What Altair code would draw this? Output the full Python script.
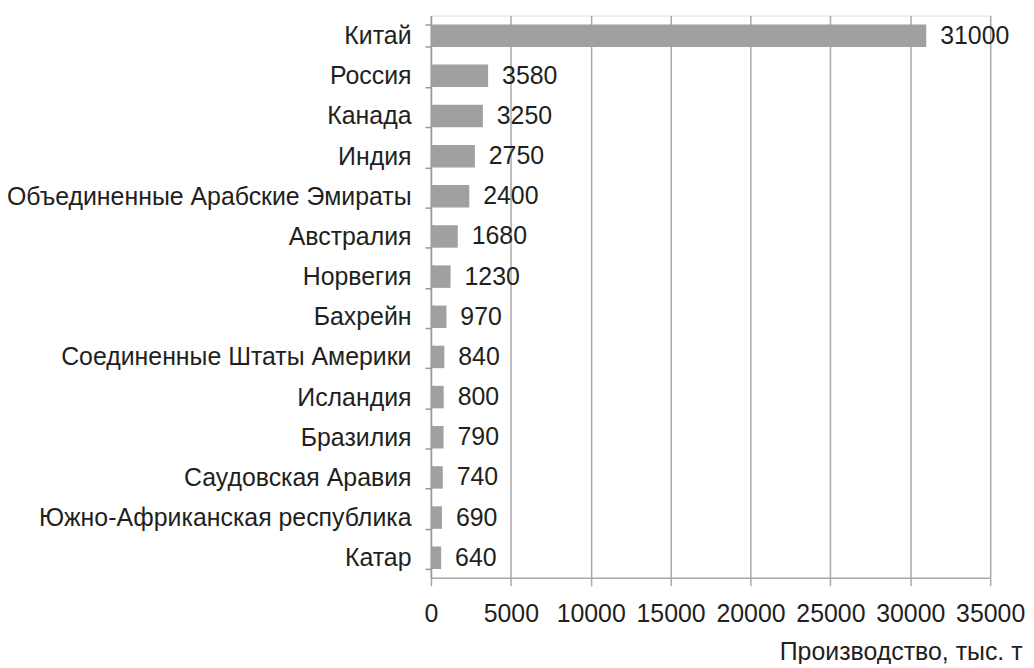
import altair as alt
import pandas as pd

countries = ["Китай", "Россия", "Канада", "Индия", "Объединенные Арабские Эмираты",
             "Австралия", "Норвегия", "Бахрейн", "Соединенные Штаты Америки",
             "Исландия", "Бразилия", "Саудовская Аравия",
             "Южно-Африканская республика", "Катар"]
values = [31000, 3580, 3250, 2750, 2400, 1680, 1230, 970, 840, 800, 790, 740, 690, 640]

df = pd.DataFrame({"country": countries, "value": values})

FONT = "Liberation Sans"
TXT = "#231f20"
FS = 25

y_enc = alt.Y("country:N", sort=countries,
              scale=alt.Scale(paddingInner=0.44, paddingOuter=0.22),
              axis=alt.Axis(title=None, labelFontSize=FS, labelColor=TXT, labelFont=FONT,
                            labelPadding=14, tickSize=6, tickColor="#999999",
                            domainColor="#999999", domainWidth=1.5, tickWidth=1.5,
                            tickBand="extent", grid=False, labelLimit=600))

x_enc = alt.X("value:Q",
              scale=alt.Scale(domain=[0, 35000], nice=False),
              axis=alt.Axis(values=[0, 5000, 10000, 15000, 20000, 25000, 30000, 35000],
                            format="d", title="Производство, тыс. т",
                            labelFontSize=FS, labelColor=TXT, labelFont=FONT,
                            labelPadding=16, tickSize=8, tickColor="#aaaaaa", tickWidth=1.5,
                            domainColor="#aaaaaa", domainWidth=1.5,
                            grid=True, gridColor="#aaaaaa", gridWidth=1.5,
                            labelOverlap=False, labelFlush=False,
                            titleFontSize=FS, titleFont=FONT, titleColor=TXT,
                            titleFontWeight="normal", titleAlign="right",
                            titleAnchor="end", titleX=594, titleY=82,
                            titleBaseline="alphabetic"))

bars = alt.Chart(df).mark_bar(color="#a0a0a3").encode(x=x_enc, y=y_enc)
labels = alt.Chart(df).mark_text(align="left", baseline="middle", dx=14,
                                 fontSize=FS, font=FONT, color=TXT).encode(
    x="value:Q", y=alt.Y("country:N", sort=countries), text="value:Q")

chart = (bars + labels).properties(
    width=562, height=565,
    autosize=alt.AutoSizeParams(type="none"),
    padding={"left": 425, "top": 6, "right": 36, "bottom": 85},
).configure_view(stroke=None).configure(background="white")

chart.save("out.html", embed_options={"renderer": "svg", "actions": False})
